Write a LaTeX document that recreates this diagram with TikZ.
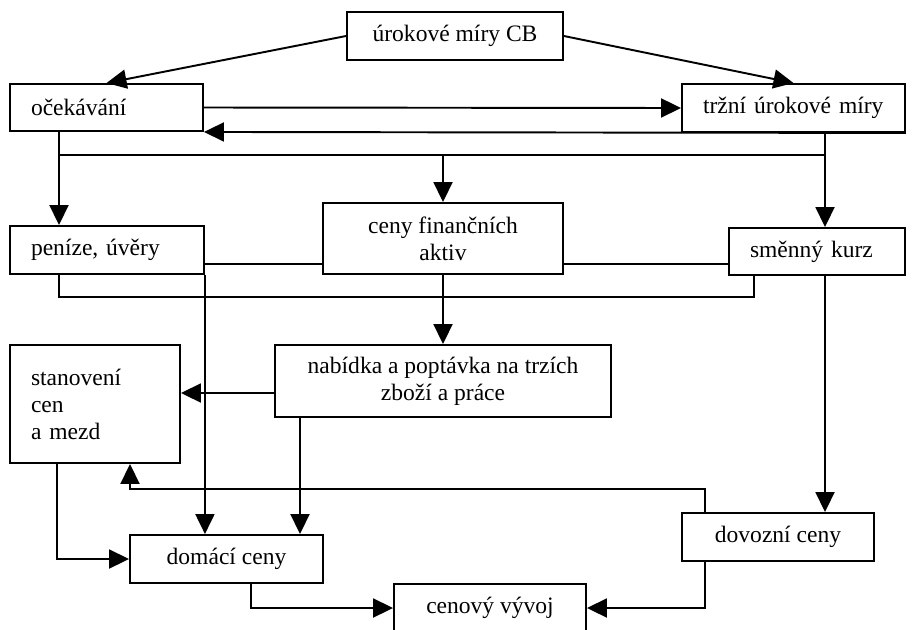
\documentclass[tikz,border=0pt]{standalone}
\usepackage{fontspec}
\setmainfont{Liberation Serif}
\usetikzlibrary{arrows.meta}

\begin{document}
\begin{tikzpicture}[x=0.02cm, y=-0.02cm, line width=1.1pt,
    blok/.style={draw, rectangle, inner ysep=2pt, font=\fontsize{13.4pt}{15.4pt}\selectfont},
    vlevo/.style={blok, align=left, inner xsep=0.42cm, text width=#1},
    stred/.style={blok, align=center, minimum width=#1},
    sip/.style={-{Triangle[length=0.4cm, width=0.38cm]}}]
      \useasboundingbox (0,0) rectangle (916,629);

      % Boxes
      \node[stred=4.32cm, minimum height=0.96cm] (cb) at (455,36) {úrokové míry CB};
      \node[vlevo=3.02cm, minimum height=0.94cm] (ocek) at (106.5,107.5) {očekávání};
      \node[vlevo=3.62cm, minimum height=0.96cm] (trzni) at (793.5,108) {tržní úrokové míry};
      \node[vlevo=3.04cm, minimum height=0.96cm] (penize) at (107,250) {peníze, úvěry};
      \node[stred=4.80cm, minimum height=1.42cm] (aktiva) at (443,238.5) {ceny finančních\\aktiv};
      \node[vlevo=2.68cm, minimum height=0.94cm] (smenny) at (817,251.5) {směnný kurz};
      \node[vlevo=2.56cm, minimum height=2.36cm] (stanov) at (95,404) {stanovení\\cen\\a mezd\par\vspace*{0.28cm}};
      \node[stred=6.72cm, minimum height=1.44cm] (nabidka) at (443,381) {nabídka a poptávka na trzích\\zboží a práce};
      \node[stred=3.86cm, minimum height=0.96cm] (domaci) at (226.5,559) {domácí ceny};
      \node[stred=3.84cm, minimum height=0.96cm] (dovozni) at (778,537) {dovozní ceny};
      \node[stred=3.84cm, minimum height=0.96cm] (cenovy) at (490,608) {cenový vývoj};

      % Bend points
      \coordinate (jl) at (59,155);
      \coordinate (jr) at (825,155);
      \coordinate (hl) at (0,264);
      \coordinate (dl) at (59,297);
      \coordinate (dr) at (754,297);
      \coordinate (hs) at (0,393);
      \coordinate (nx) at (300,0);
      \coordinate (sx) at (57,0);
      \coordinate (dx) at (251,0);
      \coordinate (vx) at (705,0);
      \coordinate (zp) at (130,489);

      % Top arrows
      \draw[sip] (cb.west) -- (ocek.north);
      \draw[sip] (cb.east) -- (trzni.north);
      \draw[sip] (ocek.east) -- (trzni.west);
      \draw[sip] (trzni.south east) -- (ocek.south east);

      % Distribution line
      \draw[sip] (ocek.south -| jl) -- (penize.north -| jl);
      \draw[sip] (trzni.south -| jr) -- (smenny.north -| jr);
      \draw (jl) -- (jr);
      \draw[sip] (aktiva.north |- jl) -- (aktiva.north);

      % Middle links
      \draw (penize.east |- hl) -- (aktiva.west |- hl);
      \draw (aktiva.east |- hl) -- (smenny.west |- hl);
      \draw (penize.south -| dl) -- (dl) -- (dr) -- (smenny.south -| dr);
      \draw[sip] (penize.south east) -- (domaci.north -| penize.south east);
      \draw[sip] (aktiva.south) -- (nabidka.north);
      \draw[sip] (nabidka.west |- hs) -- (stanov.east |- hs);
      \draw[sip] (nabidka.south -| nx) -- (domaci.north -| nx);
      \draw[sip] (smenny.south -| jr) -- (dovozni.north -| jr);

      % Bottom links
      \draw[sip] (stanov.south -| sx) |- (domaci.west);
      \draw[sip] (domaci.south -| dx) |- (cenovy.west);
      \draw[sip] (dovozni.south -| vx) |- (cenovy.east);
      \draw[sip] (dovozni.north -| vx) |- (zp) -- (stanov.south -| zp);

\end{tikzpicture}
\end{document}
